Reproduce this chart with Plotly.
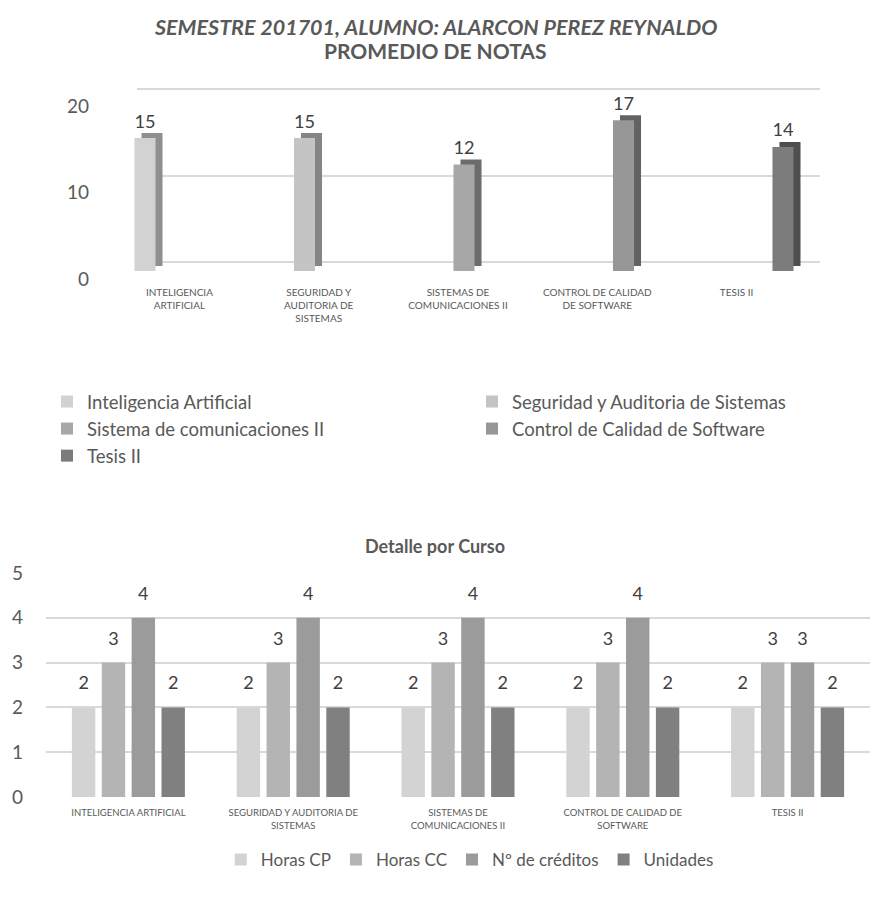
import plotly.graph_objects as go

# ---------------- data ----------------
courses = ["Inteligencia Artificial", "Seguridad y Auditoria de Sistemas",
           "Sistema de comunicaciones II", "Control de Calidad de Software", "Tesis II"]
top_categories = ["INTELIGENCIA<br>ARTIFICIAL", "SEGURIDAD Y<br>AUDITORIA DE<br>SISTEMAS",
                  "SISTEMAS DE<br>COMUNICACIONES II", "CONTROL DE CALIDAD<br>DE SOFTWARE", "TESIS II"]
promedio = [15, 15, 12, 17, 14]
top_ticks = [0, 10, 20]

bottom_categories = ["INTELIGENCIA ARTIFICIAL", "SEGURIDAD Y AUDITORIA DE<br>SISTEMAS",
                     "SISTEMAS DE<br>COMUNICACIONES II", "CONTROL DE CALIDAD DE<br>SOFTWARE", "TESIS II"]
series_names = ["Horas CP", "Horas CC", "Nº de créditos", "Unidades"]
horas_cp = [2, 2, 2, 2, 2]
horas_cc = [3, 3, 3, 3, 3]
creditos = [4, 4, 4, 4, 3]
unidades = [2, 2, 2, 2, 2]
bottom_values = [horas_cp, horas_cc, creditos, unidades]
bottom_ticks = [0, 1, 2, 3, 4, 5]

# ---------------- style ----------------
W, H = 870, 902
FONT = "Lato"
front_colors = ["#d2d2d2", "#c4c4c4", "#a7a7a7", "#979797", "#7c7c7c"]
side_colors = ["#8f8f8f", "#858585", "#6c6c6c", "#626262", "#4e4e4e"]
bottom_colors = ["#d3d3d3", "#b4b4b4", "#9b9b9b", "#808080"]
grid = "#d9d9d9"
txt = "#595959"
val = "#404040"
noline = dict(width=0)


def dx(a, b):
    return [max(0, a / W), min(1, b / W)]


def dy(top, bottom):
    return [max(0, 1 - bottom / H), min(1, 1 - top / H)]


fig = go.Figure()

# anchor trace for the back-wall grid subplot (nothing visible)
fig.add_trace(go.Scatter(x=[None], y=[None], xaxis="x", yaxis="y", mode="markers",
                         showlegend=False, hoverinfo="skip"))

n = len(courses)
# shadow (side/top faces) -> subplot 2
for i in range(n):
    yv = [promedio[i] if j == i else None for j in range(n)]
    fig.add_trace(go.Bar(x=top_categories, y=yv, xaxis="x2", yaxis="y2", width=0.151,
                         marker=dict(color=side_colors[i], line=noline),
                         showlegend=False, hoverinfo="skip"))
# front faces -> subplot 3 (legend in two columns)
for i in range(n):
    yv = [promedio[i] if j == i else None for j in range(n)]
    fig.add_trace(go.Bar(x=top_categories, y=yv, xaxis="x3", yaxis="y3", width=0.151,
                         name=courses[i], legend="legend" if i % 2 == 0 else "legend3",
                         marker=dict(color=front_colors[i], line=noline)))
# value labels top -> subplot 5
for i in range(n):
    yv = [promedio[i] if j == i else None for j in range(n)]
    fig.add_trace(go.Bar(x=top_categories, y=yv, xaxis="x5", yaxis="y5", width=0.151,
                         marker=dict(color="rgba(0,0,0,0)", line=noline), texttemplate="%{y}",
                         textposition="outside", cliponaxis=False,
                         textfont=dict(family=FONT, size=21, color=val),
                         showlegend=False, hoverinfo="skip"))

# bottom chart bars -> subplot 4
for k, name in enumerate(series_names):
    fig.add_trace(go.Bar(x=bottom_categories, y=bottom_values[k], xaxis="x4", yaxis="y4",
                         width=0.142, name=name, legend="legend2",
                         marker=dict(color=bottom_colors[k], line=noline)))
# bottom labels -> subplot 6
for k, name in enumerate(series_names):
    fig.add_trace(go.Bar(x=bottom_categories, y=bottom_values[k], xaxis="x6", yaxis="y6",
                         width=0.142, marker=dict(color="rgba(0,0,0,0)", line=noline),
                         texttemplate="%{y}", textposition="outside",
                         cliponaxis=False, textfont=dict(family=FONT, size=18, color=val),
                         showlegend=False, hoverinfo="skip"))

hidden = dict(showgrid=False, zeroline=False, showticklabels=False, showline=False, ticks="")

front_x = dx(115.75, 812.25)
vleg = dict(orientation="v", yanchor="top", xanchor="left", traceorder="normal",
            font=dict(size=18.5, color=txt), bgcolor="rgba(0,0,0,0)", tracegroupgap=0)
fig.update_layout(
    template="none",
    width=W, height=H,
    margin=dict(l=0, r=0, t=0, b=0),
    paper_bgcolor="white", plot_bgcolor="rgba(0,0,0,0)",
    font=dict(family=FONT, color=txt),
    barmode="group", bargap=0.275, bargroupgap=0,
    # back wall gridlines (top chart): 0 at 262px, 20 at 89px
    xaxis=dict(domain=dx(137, 820), anchor="y", range=[0, 1], **hidden),
    yaxis=dict(domain=dy(89 - 0.2 * 8.65, 262 + 0.2 * 8.65), anchor="x", range=[-0.2, 20.2],
               tickvals=top_ticks, showgrid=True, gridcolor=grid, gridwidth=1.5,
               zeroline=False, showline=False, ticks="",
               tickfont=dict(size=19, color=txt), ticklabelshift=17, ticklabelstandoff=47),
    # shadow
    xaxis2=dict(domain=dx(122.75, 819.25), anchor="y2", **hidden),
    yaxis2=dict(domain=dy(88.7, 266), anchor="x2", range=[0, 20], **hidden),
    # front
    xaxis3=dict(domain=front_x, anchor="y3", showgrid=False, zeroline=False, showline=False,
                ticks="", tickfont=dict(size=10, color=txt), ticklabelshift=-6,
                ticklabelstandoff=14, tickangle=0),
    yaxis3=dict(domain=dy(93.7, 271), anchor="x3", range=[0, 20], **hidden),
    # top labels
    xaxis5=dict(domain=front_x, anchor="y5", **hidden),
    yaxis5=dict(domain=dy(89.7, 267), anchor="x5", range=[0, 20], **hidden),
    # bottom chart: 0 at 797px, 5 at 573px
    xaxis4=dict(domain=dx(46, 870), anchor="y4", showgrid=False, zeroline=False,
                showline=False, ticks="", tickfont=dict(size=9.5, color=txt),
                ticklabelstandoff=8, tickangle=0),
    yaxis4=dict(domain=dy(573 - 0.02 * 44.8, 797 + 0.02 * 44.8), anchor="x4",
                range=[-0.02, 5.02], tickvals=bottom_ticks,
                showgrid=True, gridcolor=grid, gridwidth=1.5, zeroline=False,
                showline=False, ticks="",
                tickfont=dict(size=19, color=txt), ticklabelstandoff=22),
    xaxis6=dict(domain=dx(46, 870), anchor="y6", **hidden),
    yaxis6=dict(domain=dy(562, 786), anchor="x6", range=[0, 5], **hidden),
    legend=dict(x=47 / W, y=1 - 383 / H, **vleg),
    legend3=dict(x=472 / W, y=1 - 383 / H, **vleg),
    legend2=dict(orientation="h", x=0.54, xanchor="center", y=1 - 842 / H, yanchor="top",
                 traceorder="normal", font=dict(size=17, color=txt),
                 bgcolor="rgba(0,0,0,0)"),
    annotations=[
        dict(text="<b><i>SEMESTRE 201701, ALUMNO: ALARCON PEREZ REYNALDO</i></b>",
             x=0.5, y=1 - 27 / H, xref="paper", yref="paper", showarrow=False,
             font=dict(size=21.5, color=txt), xanchor="center", yanchor="middle"),
        dict(text="<b>PROMEDIO DE NOTAS</b>",
             x=0.5, y=1 - 51 / H, xref="paper", yref="paper", showarrow=False,
             font=dict(size=21, color=txt), xanchor="center", yanchor="middle"),
        dict(text="<b>Detalle por Curso</b>",
             x=0.5, y=1 - 546 / H, xref="paper", yref="paper", showarrow=False,
             font=dict(size=18, color=txt), xanchor="center", yanchor="middle"),
    ],
)

fig.write_html("out.html", config={"displayModeBar": False},
               post_script="document.body.style.margin='0';")
